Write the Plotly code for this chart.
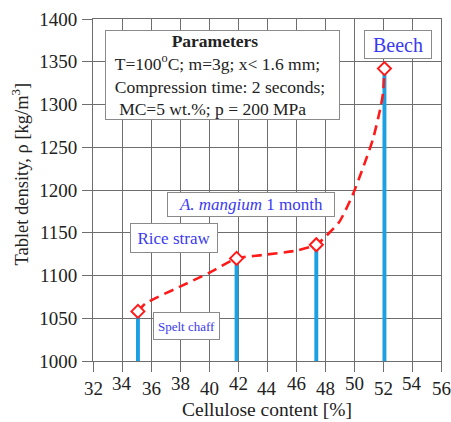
import plotly.graph_objects as go

# Measured samples: cellulose content [%] and tablet density [kg/m3]
cellulose = [35.1, 41.9, 47.4, 52.1]
density = [1058, 1120, 1136, 1342]

# Hand-drawn trend line through the samples
trend_x = [35.1, 35.6, 38.0, 40.0, 41.9, 43.7, 46.0, 47.4, 48.3, 49.0,
           49.9, 50.6, 51.3, 51.8, 52.0, 52.1]
trend_y = [1058, 1067, 1087, 1103, 1120, 1124, 1129, 1136, 1150, 1163,
           1194, 1225, 1259, 1294, 1313, 1342]

x_ticks_high = [34, 38, 42, 46, 50, 54]
x_ticks_low = [32, 36, 40, 44, 48, 52, 56]
y_ticks = [1000, 1050, 1100, 1150, 1200, 1250, 1300, 1350, 1400]

SERIF = "Liberation Serif"
BLUE = "#1BA1E2"
RED = "#FF1A1A"
GRID = "#6e6e6e"
LABEL_BLUE = "#3a3af0"
TEXT = "#222222"

fig = go.Figure()

fig.add_trace(go.Bar(
    x=cellulose, y=[d - 1000 for d in density], base=1000,
    width=0.27, marker=dict(color=BLUE, line=dict(width=0)),
    showlegend=False, hoverinfo="skip",
))

fig.add_trace(go.Scatter(
    x=trend_x, y=trend_y, mode="lines",
    line=dict(color=RED, width=2.6, dash="10px,6px", shape="spline", smoothing=0.6),
    showlegend=False, hoverinfo="skip",
))

fig.add_trace(go.Scatter(
    x=cellulose, y=density, mode="markers",
    marker=dict(symbol="diamond", size=10, color="white",
                line=dict(color=RED, width=2)),
    showlegend=False,
))

all_x_ticks = sorted(x_ticks_high + x_ticks_low)

fig.update_layout(
    width=451, height=422,
    margin=dict(l=93, r=9, t=15, b=61),
    paper_bgcolor="white", plot_bgcolor="white",
    font=dict(family=SERIF, size=18, color=TEXT),
    xaxis=dict(
        range=[32, 56], tickvals=all_x_ticks, showticklabels=False,
        ticks="outside", ticklen=10, tickcolor=GRID, tickwidth=1,
        showgrid=True, gridcolor=GRID, gridwidth=1,
        showline=True, linecolor=GRID, linewidth=1, mirror=True,
        zeroline=False,
    ),
    yaxis=dict(
        range=[1000, 1400], tickvals=y_ticks,
        ticks="outside", ticklen=10, tickcolor=GRID, tickwidth=1,
        ticklabelstandoff=1,
        showgrid=True, gridcolor=GRID, gridwidth=1,
        showline=True, linecolor=GRID, linewidth=1, mirror=True,
        zeroline=False,
        tickfont=dict(family=SERIF, size=19, color=TEXT),
    ),
)

# staggered x tick labels (two rows)
for v in x_ticks_high:
    fig.add_annotation(x=v, y=0, xref="x", yref="paper", yanchor="top",
                       yshift=-10, text=str(v), showarrow=False,
                       font=dict(family=SERIF, size=19, color=TEXT))
for v in x_ticks_low:
    fig.add_annotation(x=v, y=0, xref="x", yref="paper", yanchor="top",
                       yshift=-15, text=str(v), showarrow=False,
                       font=dict(family=SERIF, size=19, color=TEXT))

# axis titles
fig.add_annotation(x=0.5, y=0, xref="paper", yref="paper", yanchor="top",
                   yshift=-36, text="Cellulose content [%]", showarrow=False,
                   font=dict(family=SERIF, size=19.5, color=TEXT))
fig.add_annotation(x=-0.209, y=0.546, xref="paper", yref="paper",
                   xanchor="center", yanchor="middle",
                   text="Tablet density, ρ [kg/m<sup>3</sup>]", showarrow=False,
                   textangle=-90, font=dict(family=SERIF, size=18.5, color=TEXT))

box = dict(bgcolor="white", bordercolor="#8a8a8a", borderwidth=1, borderpad=0,
           showarrow=False, xref="x", yref="y", xanchor="center", yanchor="middle")

nb = "\u00a0"
fig.add_annotation(
    x=40.91, y=1334, width=233, align="left",
    text=(nb * 15 + "<b>Parameters</b><br>"
          + nb * 2 + "T=100<sup>o</sup>C; m=3g; x< 1.6 mm;<br>"
          + nb * 2 + "Compression time: 2 seconds;<br>"
          + nb * 3 + "MC=5 wt.%; p = 200 MPa"),
    font=dict(family=SERIF, size=17.5, color=TEXT),
    **box,
)
fig.add_annotation(x=53.01, y=1370.5, width=66, height=27, text="Beech",
                   font=dict(family=SERIF, size=20, color=LABEL_BLUE), **box)
fig.add_annotation(x=37.56, y=1143.4, width=86, height=28,
                   text="Rice straw",
                   font=dict(family=SERIF, size=17, color=LABEL_BLUE), **box)
fig.add_annotation(x=42.87, y=1183.2, width=166, height=23,
                   text="<i>A. mangium</i> 1 month",
                   font=dict(family=SERIF, size=17, color=LABEL_BLUE), **box)
fig.add_annotation(x=38.43, y=1040.5, width=65, height=26,
                   text="Spelt chaff",
                   font=dict(family=SERIF, size=13, color=LABEL_BLUE), **box)

fig.write_html("out.html")
